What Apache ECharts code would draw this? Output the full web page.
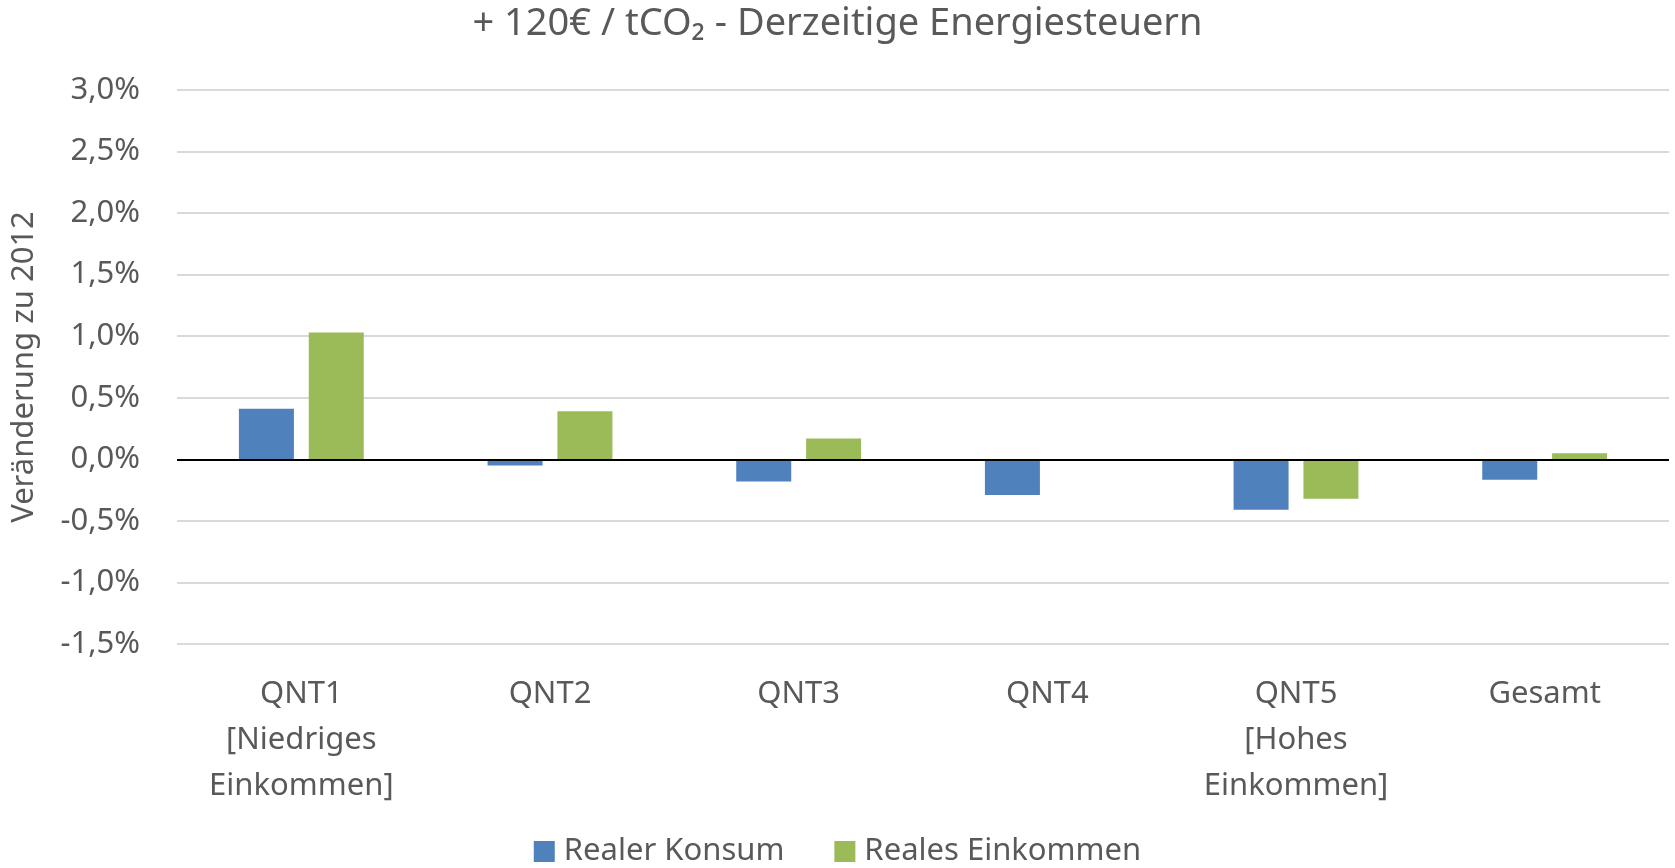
<!DOCTYPE html>
<html>
<head>
<meta charset="utf-8">
<script src="https://cdn.jsdelivr.net/npm/echarts@6/dist/echarts.min.js"></script>
<style>
  html, body { margin: 0; padding: 0; background: #fff; }
  #chart { width: 1675px; height: 868px; }
</style>
</head>
<body>
<div id="chart"></div>
<script>
// Kategorien (Einkommensquintile)
const categories = ["QNT1\n[Niedriges\nEinkommen]", "QNT2", "QNT3", "QNT4", "QNT5\n[Hohes\nEinkommen]", "Gesamt"];
// Veränderung zu 2012 in %
const realerKonsum = [0.41, -0.05, -0.18, -0.29, -0.41, -0.165];
const realesEinkommen = [1.03, 0.39, 0.17, -0.01, -0.32, 0.05];

const fontFamily = "Noto Sans";
const textColor = "#595959";

const option = {
  color: ["#4F81BD", "#9BBB59"],
  title: {
    text: "+ 120€ / tCO₂ - Derzeitige Energiesteuern",
    left: "center",
    top: 0,
    textStyle: { fontFamily: fontFamily, fontSize: 38, fontWeight: "normal", color: textColor },
  },
  legend: {
    data: ["Realer Konsum", "Reales Einkommen"],
    top: 831,
    left: "center",
    itemWidth: 21,
    itemHeight: 21,
    itemGap: 50,
    icon: "rect",
    textStyle: { fontFamily: fontFamily, fontSize: 31, color: textColor, padding: [0, 0, 0, 4] },
  },
  grid: {
    left: 177,
    right: 6,
    top: 90,
    bottom: 224,
  },
  xAxis: {
    type: "category",
    data: categories,
    axisLine: { show: false },
    axisTick: { show: false },
    axisLabel: {
      interval: 0,
      margin: 27,
      fontFamily: fontFamily,
      fontSize: 31,
      lineHeight: 46,
      color: textColor,
    },
  },
  yAxis: {
    type: "value",
    min: -1.5,
    max: 3,
    interval: 0.5,
    name: "Veränderung zu 2012",
    nameLocation: "middle",
    nameGap: 137,
    nameTextStyle: { fontFamily: fontFamily, fontSize: 31, color: textColor },
    axisLine: { show: false },
    axisTick: { show: false },
    splitLine: { lineStyle: { color: "#d9d9d9", width: 2 } },
    axisLabel: {
      margin: 37,
      fontFamily: fontFamily,
      fontSize: 31,
      color: textColor,
      formatter: function (v) {
        return v.toFixed(1).replace(".", ",") + "%";
      },
    },
  },
  series: [
    {
      name: "Realer Konsum",
      type: "bar",
      data: realerKonsum,
      barWidth: 55,
      barGap: "27%",
      markLine: {
        silent: true,
        symbol: "none",
        label: { show: false },
        lineStyle: { color: "#000", width: 2, type: "solid" },
        data: [{ yAxis: 0 }],
      },
    },
    {
      name: "Reales Einkommen",
      type: "bar",
      data: realesEinkommen,
      barWidth: 55,
    },
  ],
};

const myChart = echarts.init(document.getElementById("chart"));
myChart.setOption(option);
</script>
</body>
</html>
